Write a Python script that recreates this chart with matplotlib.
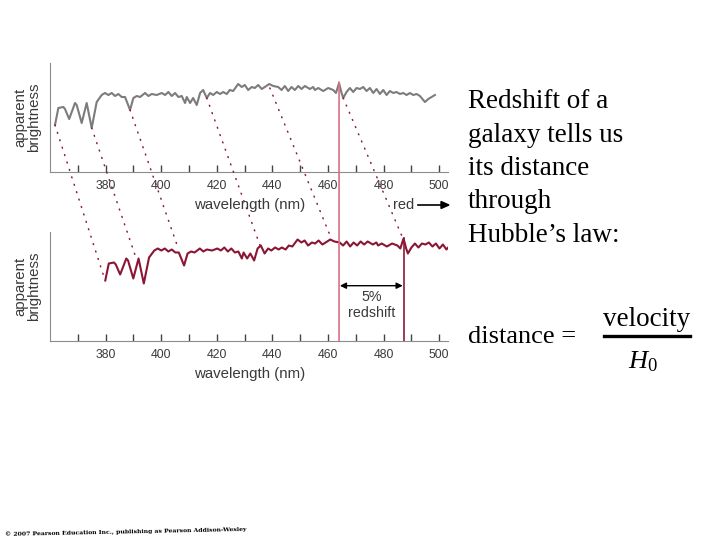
import matplotlib.pyplot as plt
from matplotlib.patches import ConnectionPatch

plt.rcParams["font.family"] = ["Liberation Sans", "DejaVu Sans"]
plt.rcParams["mathtext.fontset"] = "custom"
plt.rcParams["mathtext.rm"] = "Liberation Serif"
plt.rcParams["mathtext.it"] = "Liberation Serif:italic"

# spectrum of the nearby (unshifted) galaxy
wavelength = [361.8, 363.0, 364.8, 365.4, 366.9, 369.0, 369.6, 371.4, 373.2, 375.0,
              376.8, 378.6, 379.8, 381.0, 382.2, 383.4, 384.6, 385.8, 387.0, 388.8,
              390.0, 391.2, 392.4, 394.2, 395.4, 396.6, 398.4, 400.2, 401.4, 402.6,
              403.8, 405.0, 406.2, 407.4, 408.6, 409.2, 410.4, 411.5, 412.8, 414.0,
              415.1, 416.4, 417.6, 418.7, 420.0, 421.2, 422.3, 423.6, 424.7, 425.9,
              427.7, 429.0, 430.1, 431.3, 432.6, 433.7, 434.9, 436.2, 437.3, 438.9,
              440.3, 442.1, 443.3, 444.5, 445.7, 446.9, 448.1, 449.3, 450.5, 451.7,
              453.5, 454.7, 455.3, 456.5, 458.3, 460.1, 461.9, 462.9, 464.0, 464.9,
              465.5, 466.7, 467.9, 469.1, 470.3, 471.5, 472.7, 473.9, 475.1, 476.3,
              477.5, 478.7, 479.9, 481.1, 482.3, 483.5, 484.7, 485.9, 487.1, 488.3,
              489.5, 490.7, 491.9, 493.1, 494.9, 496.1, 497.3, 498.5]
brightness = [47, 64, 65, 63, 53, 69, 67, 49, 69, 44,
              70, 77, 79, 77, 79, 76, 78, 75, 75, 62,
              74, 76, 75, 79, 76, 78, 77, 79, 77, 80,
              76, 79, 75, 76, 69, 75, 69, 74, 67, 79,
              82, 74, 79, 77, 80, 78, 80, 78, 82, 81,
              88, 85, 87, 82, 85, 84, 87, 83, 85, 88,
              86, 85, 82, 86, 81, 85, 82, 86, 83, 86,
              83, 85, 82, 84, 81, 84, 82, 79, 89, 79,
              74, 80, 84, 80, 84, 83, 85, 81, 84, 79,
              83, 78, 82, 77, 81, 79, 80, 78, 79, 77,
              79, 77, 78, 76, 70, 73, 75, 77]
redshift = 0.05
shifted = [w * (1 + redshift) for w in wavelength]

# dotted guide lines: (top wavelength, top level) -> (bottom wavelength, bottom level)
guide_top_nm = [361.8, 375.0, 388.8, 416.4, 439.1, 465.5]
guide_top_b = [47, 44, 62, 74, 84, 74]
guide_bot_nm = [379.2, 390.8, 405.7, 435.5, 460.7, 486.6]
guide_bot_b = [52.5, 70.8, 82.5, 82.5, 92.5, 91.5]

line_rest = 464.0
line_shift = line_rest * (1 + redshift)

major_ticks = list(range(370, 510, 10))
tick_labels = [str(t) if t % 20 == 0 else "" for t in major_ticks]

fig = plt.figure(figsize=(7.2, 5.4), dpi=100)
W, H = 720, 540


def fx(px):
    return px / W


def fy(py):
    return 1 - py / H


ax1 = fig.add_axes([fx(50), fy(172), fx(448) - fx(50), 109 / H])
ax2 = fig.add_axes([fx(50), fy(341), fx(448) - fx(50), 109 / H])

spine_col = "#8c8c8c"
text_col = "#3a3a3a"
for ax in (ax1, ax2):
    ax.set_xlim(360, 503.2)
    for s in ("top", "right"):
        ax.spines[s].set_visible(False)
    ax.spines["left"].set_color(spine_col)
    ax.spines["bottom"].set_color(spine_col)
    ax.set_yticks([])
    ax.set_xticks(major_ticks)
    ax.set_xticklabels(tick_labels)
    ax.tick_params(axis="x", direction="in", length=5, width=1, color="#444444",
                   labelsize=8.8, labelcolor=text_col, pad=6)
    ax.patch.set_alpha(0)

ax1.set_ylim(0, 109)
ax2.set_ylim(-13.5, 95.5)

ax1.plot(wavelength, brightness, color="#7c7c7c", lw=1.5)
ax2.plot(shifted, brightness, color="#8b1535", lw=1.5)

# dotted guides across the two panels
for a, b, c, d in zip(guide_top_nm, guide_top_b, guide_bot_nm, guide_bot_b):
    con = ConnectionPatch(xyA=(a, b), coordsA="data", axesA=ax1,
                          xyB=(c, d), coordsB="data", axesB=ax2,
                          color="#8b1a3a", lw=1.1, linestyle=(0, (0.6, 4.5)),
                          capstyle="round")
    fig.add_artist(con)

# rest line (pink) through both panels
con = ConnectionPatch(xyA=(line_rest, 90), coordsA="data", axesA=ax1,
                      xyB=(line_rest, -13.5), coordsB="data", axesB=ax2,
                      color="#dc6f82", lw=1.2)
fig.add_artist(con)
ax2.plot([line_shift, line_shift], [89.5, -13.5], color="#8b1a3a", lw=1.2,
         clip_on=False)

ax2.annotate("", xy=(line_rest + 0.3, 41.8), xytext=(line_shift - 0.3, 41.8),
             arrowprops=dict(arrowstyle="<|-|>", color="black", lw=1,
                             mutation_scale=9, shrinkA=0, shrinkB=0))
ax2.text((line_rest + line_shift) / 2, 30.8, "5%", ha="center", va="center",
         fontsize=10.3, color=text_col)
ax2.text((line_rest + line_shift) / 2, 14.5, "redshift", ha="center", va="center",
         fontsize=10.3, color=text_col)

# axis labels
for ycen in (117, 286):
    fig.text(fx(27.5), fy(ycen), "apparent\nbrightness", rotation=90, ha="center",
             va="center", fontsize=10.8, color=text_col, linespacing=1.0)
for ycen in (205, 374):
    fig.text(fx(250), fy(ycen), "wavelength (nm)", ha="center", va="center",
             fontsize=10.8, color=text_col)
fig.text(fx(403.5), fy(205), "red", ha="center", va="center", fontsize=10.5,
         color=text_col)
fig.add_artist(plt.Line2D([fx(418), fx(442)], [fy(205), fy(205)], color="black",
                          lw=1.2))
fig.add_artist(plt.Polygon([[fx(441), fy(201.5)], [fx(449), fy(205)],
                            [fx(441), fy(208.5)]], closed=True, color="black"))

# slide text on the right
serif = ["Liberation Serif", "DejaVu Serif"]
lines = ["Redshift of a", "galaxy tells us", "its distance", "through",
         "Hubble\u2019s law:"]
for i, s in enumerate(lines):
    fig.text(fx(468), fy(108.3 + 33.3 * i), s, ha="left", va="baseline",
             fontsize=19.5, family=serif, color="black")

fig.text(fx(468), fy(343), "distance =", ha="left", va="baseline", fontsize=19,
         family=serif, color="black")
fig.text(fx(646.5), fy(326), "velocity", ha="center", va="baseline", fontsize=19.5,
         family=serif, color="black")
fig.add_artist(plt.Line2D([fx(604), fx(690)], [fy(335.5), fy(335.5)],
                          color="black", lw=2.4))
fig.text(fx(643), fy(368), r"$H_0$", ha="center", va="baseline", fontsize=19,
         color="black")

fig.text(fx(5), fy(532), "\u00a9 2007 Pearson Education Inc., publishing as "
         "Pearson Addison-Wesley", ha="left", va="center", fontsize=4.4,
         fontweight="bold", rotation=1.2, color="black",
         family=["DejaVu Serif"])

fig.savefig("out.png", dpi=100, facecolor="white")
